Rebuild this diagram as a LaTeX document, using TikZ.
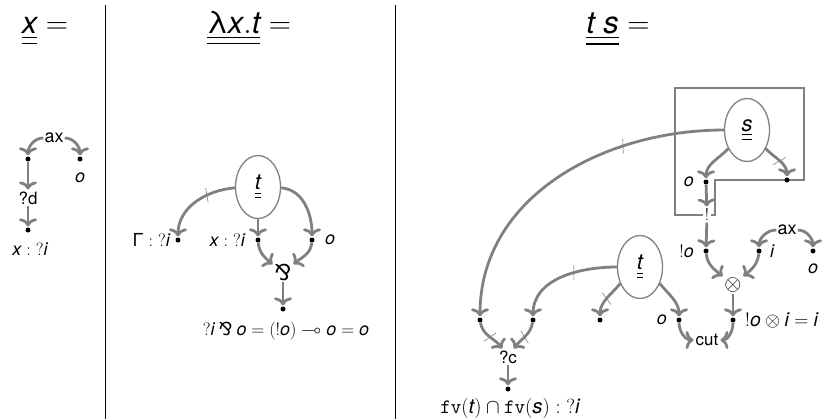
\RequirePackage{fix-cm}
\documentclass[tikz,border=0pt]{standalone}
\usepackage{amsmath,amssymb}
\usepackage{fontspec}
\setmainfont{TeX Gyre Heros}
\newfontfamily\symfont{DejaVu Sans}
\newcommand{\parrop}{\mathbin{\text{\symfont ⅋}}}
\usetikzlibrary{arrows.meta,decorations.markings,shapes.geometric,positioning}
\definecolor{netgray}{gray}{0.5}
\tikzset{
  link/.style={draw=netgray, line width=2.8pt, -{To[length=8pt,width=18pt]}, shorten >=1pt},
  term/.style={draw=netgray, line width=1.3pt, ellipse, inner sep=0pt,
    minimum width=45bp, minimum height=63bp, font=\fontsize{22}{24}\selectfont},
  dot/.style={circle, fill=black, inner sep=0pt, minimum size=5bp},
  lbl/.style={font=\fontsize{18}{20}\selectfont, inner sep=1pt},
  cell/.style={font=\fontsize{17}{19}\selectfont, inner sep=1pt},
  title/.style={font=\fontsize{31}{36}\selectfont, inner sep=0pt, anchor=base},
  cutmark/.style={postaction={decorate, decoration={markings,
    mark=at position #1 with {\draw[-, shorten >=0pt, netgray, line width=0.6pt] (-2pt,-7pt) -- (2pt,7pt);}}}},
}
\begin{document}
\begin{tikzpicture}[x=1bp,y=1bp]
    \useasboundingbox (0,0) rectangle (824,-419);
    % separators
    \draw[line width=0.9pt] (105,-5) -- (105,-419);
    \draw[line width=0.9pt] (395,-5) -- (395,-419);

    % variable
    \node[title] (hx) at (45,-33) {$\underline{\underline{\mathit{x}}} =$};
    \node[lbl] (ax1) at (54,-138) {ax};
    \node[dot] (d1) at (28,-159) {};
    \node[dot] (d2) at (80,-159) {};
    \node[lbl] (lo1) at (80,-178) {$\mathit{o}$};
    \node[cell] (qd) at (28,-198) {?d};
    \node[dot] (d3) at (28,-230) {};
    \node[lbl] (lx1) at (30,-249) {$\mathit{x} : {?}\mathit{i}$};
    \draw[link] (ax1) to[out=180,in=90] (d1);
    \draw[link] (ax1) to[out=0,in=90] (d2);
    \draw[link] (d1) -- (qd);
    \draw[link] (qd) -- (d3);

    % abstraction
    \node[title] (hl) at (249,-33) {$\underline{\underline{\text{λ}\mathit{x.t}}} =$};
    \node[term] (t2) at (258,-187) {$\underline{\underline{\mathit{t}}}$};
    \node[dot] (g) at (178,-240) {};
    \node[dot] (xv) at (258,-240) {};
    \node[dot] (o2) at (312,-240) {};
    \node[lbl, anchor=east] (lg) at (171,-240) {$\text{Γ} : {?}\mathit{i}$};
    \node[lbl, anchor=east] (lxv) at (246,-240) {$\mathit{x} : {?}\mathit{i}$};
    \node[lbl, anchor=west] (lo2) at (324,-240) {$\mathit{o}$};
    \node[cell, font=\fontsize{22}{24}\selectfont] (par) at (283,-273) {$\parrop$};
    \node[dot] (d4) at (283,-309) {};
    \node[lbl] (lpar) at (286,-331) {${?}\mathit{i} \parrop \mathit{o} = ({!}\mathit{o}) \multimap \mathit{o} = \mathit{o}$};
    \draw[link, cutmark=0.35] (t2.182) to[out=185,in=90] (g);
    \draw[link] (t2) -- (xv);
    \draw[link] (t2.-2) to[out=-5,in=90] (o2);
    \draw[link] (xv) to[out=-85,in=140] (par);
    \draw[link] (o2) to[out=-95,in=40] (par);
    \draw[link] (par) -- (d4);

    % application
    \node[title] (ha) at (618,-33) {$\underline{\underline{\mathit{t\ s}}} =$};
    \draw[netgray, line width=2.8pt] (675,-88) -- (804,-88) -- (804,-180) -- (715,-180)
        -- (715,-215) -- (675,-215) -- cycle;
    \node[term] (s3) at (747,-130) {$\underline{\underline{\mathit{s}}}$};
    \node[dot] (so) at (706,-182) {};
    \node[dot] (sr) at (787,-180) {};
    \node[lbl, anchor=east] (lso) at (695,-182) {$\mathit{o}$};
    \node[cell, fill=white, inner sep=1.5pt] (bang) at (707,-215) {$!$};
    \node[dot] (bo) at (706,-251) {};
    \node[lbl, anchor=east] (lbo) at (695,-251) {${!}\mathit{o}$};
    \node[lbl] (ax3) at (787,-230) {ax};
    \node[dot] (di) at (759,-251) {};
    \node[dot] (dd) at (813,-251) {};
    \node[lbl, anchor=west] (ldi) at (769,-251) {$\mathit{i}$};
    \node[lbl] (ldd) at (813,-269) {$\mathit{o}$};
    \node[cell, font=\fontsize{22}{24}\selectfont] (tens) at (733,-285) {$\otimes$};
    \node[dot] (dt) at (733,-320) {};
    \node[lbl, anchor=west, font=\fontsize{19.5}{21}\selectfont] (ldt) at (744,-320) {${!}\mathit{o} \otimes \mathit{i} = \mathit{i}$};
    \node[term] (t3) at (640,-267) {$\underline{\underline{\mathit{t}}}$};
    \node[dot] (ta) at (480,-320) {};
    \node[dot] (tb) at (533,-320) {};
    \node[dot] (tc) at (600,-320) {};
    \node[dot] (to) at (679,-320) {};
    \node[lbl, anchor=east] (lto) at (668,-320) {$\mathit{o}$};
    \node[cell] (cut) at (707,-340) {cut};
    \node[cell] (qc) at (508,-357) {?c};
    \node[dot] (d5) at (508,-389) {};
    \node[lbl, font=\fontsize{20.5}{22}\selectfont] (lfv) at (510,-408) {$\mathtt{fv}(\mathit{t}) \cap \mathtt{fv}(\mathit{s}) : {?}\mathit{i}$};
    \draw[link] (s3.225) to[out=-135,in=90] (so);
    \draw[link, cutmark=0.5] (s3.-45) to[out=-45,in=90] (sr);
    \draw[link] (so) -- (bang);
    \draw[link] (bang) -- (bo);
    \draw[link] (ax3) to[out=180,in=90] (di);
    \draw[link] (ax3) to[out=0,in=90] (dd);
    \draw[link] (bo) to[out=-85,in=140] (tens);
    \draw[link] (di) to[out=-95,in=40] (tens);
    \draw[link] (tens) -- (dt);
    \draw[link, cutmark=0.3] (s3.west) to[out=180,in=90] (ta);
    \draw[link, cutmark=0.4] (t3.west) to[out=180,in=90] (tb);
    \draw[link, cutmark=0.5] (t3.220) to[out=-130,in=90] (tc);
    \draw[link] (t3.-40) to[out=-50,in=90] (to);
    \draw[link] (to) to[out=-90,in=180] (cut);
    \draw[link] (dt) to[out=-90,in=0] (cut);
    \draw[link, cutmark=0.5] (ta) to[out=-80,in=125] (qc);
    \draw[link, cutmark=0.5] (tb) to[out=-100,in=55] (qc);
    \draw[link] (qc) -- (d5);
\end{tikzpicture}
\end{document}
